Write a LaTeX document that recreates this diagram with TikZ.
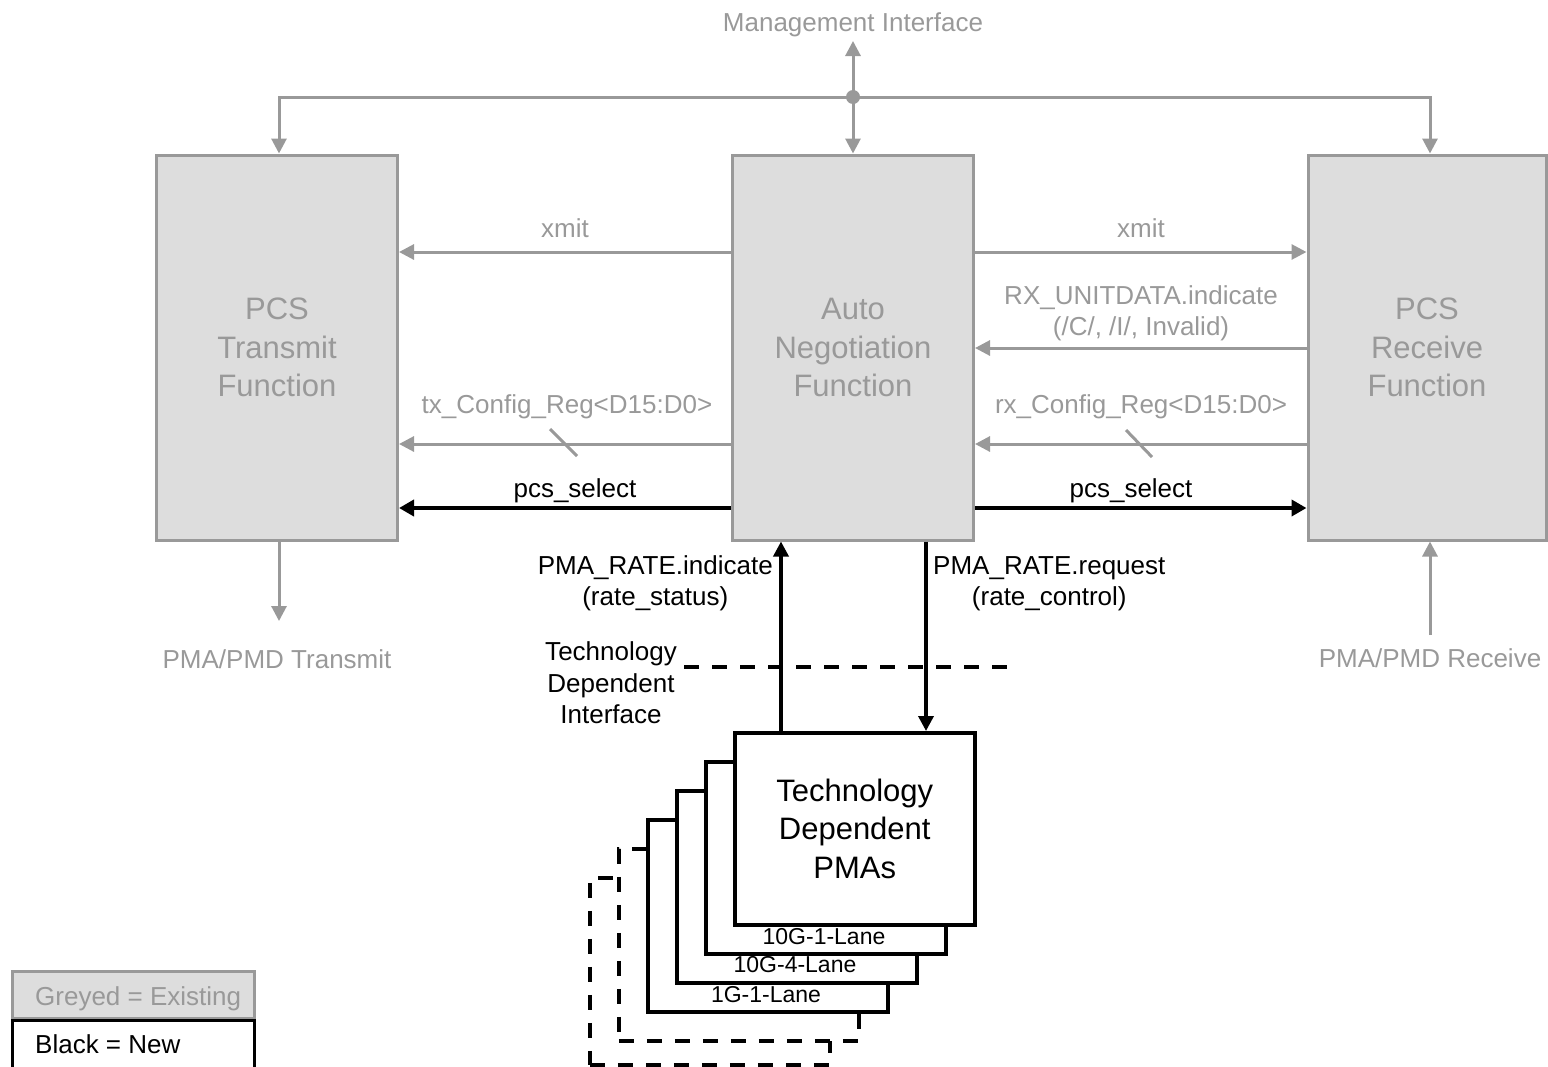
\documentclass[tikz,border=0pt]{standalone}
\usepackage{fontspec}
\setmainfont{Liberation Sans}
\usetikzlibrary{arrows.meta,calc}
\definecolor{exgray}{HTML}{999999}
\definecolor{exfill}{HTML}{DDDDDD}
\begin{document}
\begin{tikzpicture}[x=1pt,y=-1pt,
  big/.style={font=\fontsize{31}{38.5}\selectfont},
  lbl/.style={font=\fontsize{26}{31}\selectfont, inner sep=0pt},
  small/.style={font=\fontsize{23}{28}\selectfont, inner sep=0pt},
  oldbox/.style={draw=exgray, fill=exfill, line width=3pt, text=exgray, big, align=center, inner sep=0pt, minimum width=241pt, minimum height=385pt},
  pmabox/.style={draw=black, fill=white, line width=3.5pt, inner sep=0pt, minimum width=240pt, minimum height=192pt, anchor=north west},
  pdash/.style={dash pattern=on 15pt off 13pt},
  gline/.style={draw=exgray, line width=3pt},
  garrow/.style={gline, -{Triangle[length=15pt,width=15pt]}},
  gdarrow/.style={gline, {Triangle[length=15pt,width=15pt]}-{Triangle[length=15pt,width=15pt]}},
  bline/.style={draw=black, line width=3.5pt},
  barrow/.style={bline, -{Triangle[length=15pt,width=15pt]}},
  sarrow/.style={draw=black, line width=4.5pt, -{Triangle[length=15pt,width=16pt]}},
  gtext/.style={lbl, text=exgray},
  legbox/.style={line width=3pt, minimum width=242pt, anchor=north west, inner sep=0pt},
]
\useasboundingbox (0,0) rectangle (1548,1066);

% helper coordinates
\coordinate (lxmit) at (0,252);
\coordinate (lrx) at (0,348);
\coordinate (lcfg) at (0,444);
\coordinate (lsel) at (0,508);
\coordinate (bus) at (853,97);
\coordinate (mgmt) at (853,41);
\coordinate (xtx) at (279,0);
\coordinate (xrx) at (1430,0);
\coordinate (txout) at (279,621);
\coordinate (rxin) at (1430,635);
\coordinate (xind) at (781,0);
\coordinate (xreq) at (926,0);
\coordinate (tdiL) at (684,667);
\coordinate (tdiR) at (1008,667);

% main blocks
\node[oldbox] (tx) at (277,347.5) {PCS\\Transmit\\Function};
\node[oldbox] (an) at (853,347.5) {Auto\\Negotiation\\Function};
\node[oldbox, minimum width=238pt] (rx) at (1427,347.5) {PCS\\Receive\\Function};

% management interface
\node[gtext, anchor=base] (mgmtlbl) at (853,31) {Management Interface};
\draw[gdarrow] (mgmt) -- (an.north);
\draw[garrow] (bus) -| (tx.north -| xtx);
\draw[garrow] (bus) -| (rx.north -| xrx);
\fill[exgray] (bus) circle (7pt);

% horizontal connectors
\draw[garrow] (an.west |- lxmit) -- (tx.east |- lxmit);
\draw[garrow] (an.east |- lxmit) -- (rx.west |- lxmit);
\draw[garrow] (rx.west |- lrx) -- (an.east |- lrx);
\draw[garrow] (an.west |- lcfg) -- (tx.east |- lcfg);
\draw[garrow] (rx.west |- lcfg) -- (an.east |- lcfg);
\draw[sarrow] (an.west |- lsel) -- (tx.east |- lsel);
\draw[sarrow] (an.east |- lsel) -- (rx.west |- lsel);

% bus-width slashes
\draw[gline] (550,429) -- (577,456);
\draw[gline] (1126,430) -- (1152,457);

% labels
\node[gtext, anchor=base] at (565,237) {xmit};
\node[gtext, anchor=base] at (1141,237) {xmit};
\node[gtext, align=center] at (1141,313.75) {RX\_UNITDATA.indicate\\(/C/, /I/, Invalid)};
\node[gtext, anchor=base] at (567,413) {tx\_Config\_Reg<D15:D0>};
\node[gtext, anchor=base] at (1141,413) {rx\_Config\_Reg<D15:D0>};
\node[lbl, anchor=base] at (575,497) {pcs\_select};
\node[lbl, anchor=base] at (1131,497) {pcs\_select};

% PMA/PMD
\draw[garrow] (tx.south -| xtx) -- (txout);
\draw[garrow] (rxin) -- (rx.south -| xrx);
\node[gtext, anchor=base] at (277,668) {PMA/PMD Transmit};
\node[gtext, anchor=base] at (1430,667) {PMA/PMD Receive};

% PMA stack
\node[pmabox, pdash, minimum height=187pt] (pma5) at (588,876) {};
\node[pmabox, pdash] (pma4) at (617,847) {};
\node[pmabox] (pma3) at (646,818) {};
\node[pmabox] (pma2) at (675,789) {};
\node[pmabox] (pma1) at (704,760) {};
\node[pmabox, big, align=center] (pma0) at (733,731) {Technology\\Dependent\\PMAs};
\node[small, anchor=base] at (824,944) {10G-1-Lane};
\node[small, anchor=base] at (795,972) {10G-4-Lane};
\node[small, anchor=base] at (766,1002) {1G-1-Lane};

% technology dependent interface
\draw[black, line width=4pt, dash pattern=on 15pt off 13pt] (tdiL) -- (tdiR);
\node[lbl, align=center, font=\fontsize{26}{31.5}\selectfont] at (611,683) {Technology\\Dependent\\Interface};

% PMA_RATE connectors
\draw[barrow] (pma0.north -| xind) -- (an.south -| xind);
\draw[barrow] (an.south -| xreq) -- (pma0.north -| xreq);
\node[lbl, align=center, anchor=east] at (773,583.75) {PMA\_RATE.indicate\\(rate\_status)};
\node[lbl, align=center, anchor=west] at (933,583.75) {PMA\_RATE.request\\(rate\_control)};

% legend
\node[legbox, draw=exgray, fill=exfill, minimum height=47pt] (leg1) at (11,970) {};
\node[legbox, draw=black, fill=white, minimum height=50pt] (leg2) at (11,1019) {};
\node[gtext, anchor=base west] at (35,1005) {Greyed = Existing};
\node[lbl, anchor=base west] at (35,1053) {Black = New};
\end{tikzpicture}
\end{document}
